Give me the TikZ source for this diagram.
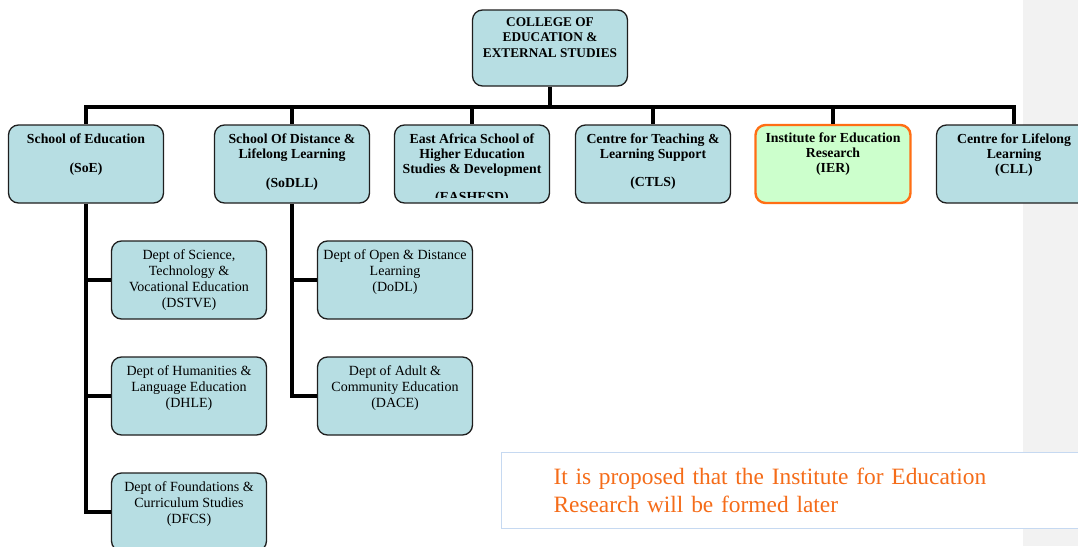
\documentclass[tikz,border=0pt]{standalone}
\usepackage{fontspec}
\setmainfont{Liberation Serif}
\usetikzlibrary{positioning}

\definecolor{boxblue}{RGB}{183,222,227}
\definecolor{boxline}{RGB}{30,30,30}
\definecolor{iergreen}{RGB}{204,255,204}
\definecolor{ierorange}{RGB}{255,110,20}
\definecolor{noteorange}{RGB}{245,108,25}
\definecolor{noteline}{RGB}{198,217,241}
\definecolor{stripgray}{RGB}{242,242,242}

\tikzset{
  unit/.style={draw=boxline, line width=1.3pt, rounded corners=10pt, fill=boxblue,
    minimum width=155pt, minimum height=78pt, inner sep=0pt},
  toptxt/.style={font=\bfseries\fontsize{13.3}{15.5}\selectfont, align=center, inner sep=0pt},
  headtxt/.style={font=\bfseries\fontsize{13.8}{15}\selectfont, align=center, inner sep=0pt},
  depttxt/.style={font=\fontsize{14}{16}\selectfont, align=center, inner sep=0pt},
  link/.style={line width=4.5pt},
  notebox/.style={draw=noteline, line width=1pt, fill=white, anchor=north west,
    minimum width=590pt, minimum height=76pt, inner xsep=52pt, inner ysep=0pt,
    text width=486pt, align=left, text=noteorange, font=\fontsize{23.4}{28}\selectfont}
}

\begin{document}
\begin{tikzpicture}[x=1pt,y=-1pt]
\useasboundingbox (0,0) rectangle (1078,546);
\fill[stripgray] (1023,0) rectangle (1078,546);

\node[unit, minimum height=76pt] (college) at (550,48) {};
\node[toptxt, below=8pt of college.north] (collegetext) {COLLEGE OF\\EDUCATION \&\\EXTERNAL STUDIES};

\node[unit] (soe) at (86,164) {};
\node[unit] (sodll) at (292,164) {};
\node[unit] (eashesd) at (472,164) {};
\node[unit] (ctls) at (653,164) {};
\node[unit, draw=ierorange, line width=2.4pt, fill=iergreen] (ier) at (833,164) {};
\node[unit] (cll) at (1014,164) {};

\node[headtxt, below=9pt of soe.north] (soetext) {School of Education\\[14pt](SoE)};
\node[headtxt, below=9pt of sodll.north] (sodlltext) {School Of Distance \&\\Lifelong Learning\\[14pt](SoDLL)};
\begin{scope}
\clip (eashesd.north west) rectangle ([yshift=6pt]eashesd.south east);
\node[headtxt, below=9pt of eashesd.north] (eashesdtext) {East Africa School of\\Higher Education\\Studies \& Development\\[13pt](EASHESD)};
\end{scope}
\node[headtxt, below=9pt of ctls.north] (ctlstext) {Centre for Teaching \&\\Learning Support\\[13pt](CTLS)};
\node[headtxt, below=9pt of ier.north] (iertext) {Institute for Education\\Research\\(IER)};
\node[headtxt, below=9pt of cll.north] (clltext) {Centre for Lifelong\\Learning\\(CLL)};

\node[unit] (dstve) at (189,280) {};
\node[unit] (dhle) at (189,396) {};
\node[unit] (dfcs) at (189,512) {};
\node[unit] (dodl) at (395,280) {};
\node[unit] (dace) at (395,396) {};

\node[depttxt, below=9pt of dstve.north] (dstvetext) {Dept of Science,\\Technology \&\\Vocational Education\\(DSTVE)};
\node[depttxt, below=9pt of dhle.north] (dhletext) {Dept of Humanities \&\\Language Education\\(DHLE)};
\node[depttxt, below=9pt of dfcs.north] (dfcstext) {Dept of Foundations \&\\Curriculum Studies\\(DFCS)};
\node[depttxt, below=9pt of dodl.north] (dodltext) {Dept of Open \& Distance\\Learning\\(DoDL)};
\node[depttxt, below=9pt of dace.north] (dacetext) {Dept of Adult \&\\Community Education\\(DACE)};

\coordinate (bus) at (0,107);
\draw[link] (college.south) -- (college.south |- bus);
\draw[link] (soe.north) -- (soe.north |- bus) -- (cll.north |- bus) -- (cll.north);
\foreach \n in {sodll,eashesd,ctls,ier}
  \draw[link] (\n.north |- bus) -- (\n.north);

\draw[link] (soe.south) |- (dfcs.west);
\foreach \n in {dstve,dhle}
  \draw[link] (soe.south |- \n.west) -- (\n.west);
\draw[link] (sodll.south) |- (dace.west);
\draw[link] (sodll.south |- dodl.west) -- (dodl.west);

\node[notebox] (note) at (501,452) {It is proposed that the Institute for Education\\Research will be formed later};

\end{tikzpicture}
\end{document}
